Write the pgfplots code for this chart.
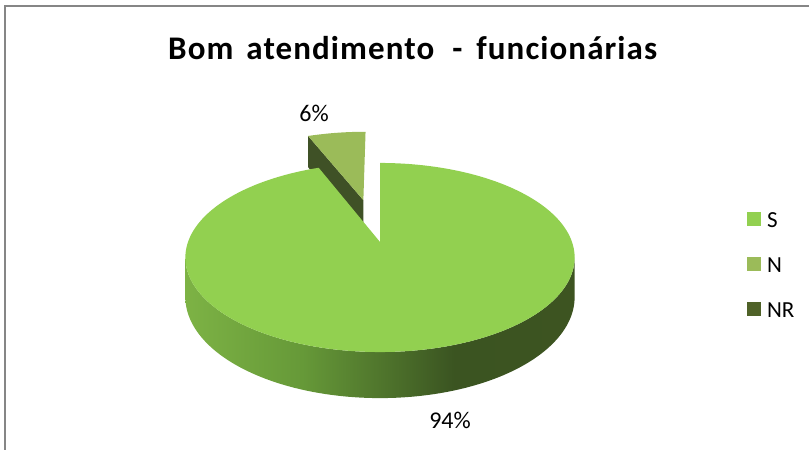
\documentclass[border=0pt]{standalone}
\usepackage{fontspec}
\setmainfont{Carlito}
\newfontfamily\titlefont{Carlito}[LetterSpace=3.3]
\usepackage{pgfplots}
\usepackage{pgfplotstable}
\pgfplotsset{compat=1.18}

\definecolor{colS}{RGB}{146,208,80}
\definecolor{colN}{RGB}{155,187,89}
\definecolor{colNR}{RGB}{79,98,40}
\definecolor{sideN}{RGB}{63,81,38}
\definecolor{framegray}{RGB}{134,134,134}
\pgfdeclarehorizontalshading{wallS}{100bp}{rgb(0bp)=(0.49,0.70,0.27); rgb(25bp)=(0.49,0.70,0.27); rgb(40bp)=(0.40,0.60,0.22); rgb(59.5bp)=(0.23,0.33,0.13); rgb(75bp)=(0.24,0.33,0.13); rgb(100bp)=(0.24,0.33,0.13)}

\pgfplotstableread{
label value
S 94
N 6
NR 0
}\piedata

\begin{document}%
\begin{tikzpicture}
\pgfplotstablegetelem{0}{value}\of\piedata \let\vS\pgfplotsretval
\pgfplotstablegetelem{1}{value}\of\piedata \let\vN\pgfplotsretval
% geometry of the projected pie (pixels)
\def\cx{380}\def\cy{242}\def\A{192}\def\B{92}\def\k{0.164}\def\H{38.5}
\pgfmathsetmacro\aSend{90-3.6*\vS}
\pgfmathsetmacro\aNend{90+3.6*\vN}
\pgfmathsetmacro\aNmid{90+1.8*\vN}
\pgfmathsetmacro\ex{0.5*cos(\aNmid)}
\pgfmathsetmacro\ey{0.5*sin(\aNmid)}
\pgfmathsetmacro\sR{-asin(\k)}
\pgfmathsetmacro\sL{-180+asin(\k)}
% corner points of the N slice
\pgfmathsetmacro\NapX{\cx+\A*\ex/(1+\k*\ey)}
\pgfmathsetmacro\NapY{\cy-(\B*\ey)/(1+\k*\ey)}
\pgfmathsetmacro\NapYb{\cy-(\B*\ey-\H)/(1+\k*\ey)}
\pgfmathsetmacro\NbU{\ex+cos(\aNend)}
\pgfmathsetmacro\NbV{\ey+sin(\aNend)}
\pgfmathsetmacro\NbX{\cx+\A*\NbU/(1+\k*\NbV)}
\pgfmathsetmacro\NbY{\cy-(\B*\NbV)/(1+\k*\NbV)}
\pgfmathsetmacro\NbYb{\cy-(\B*\NbV-\H)/(1+\k*\NbV)}
\begin{axis}[
  width=809bp, height=450bp, scale only axis,
  xmin=0, xmax=809, ymin=0, ymax=450, y dir=reverse,
  hide axis, clip=false,
  declare function={
    PX(\u,\v)=\cx+\A*\u/(1+\k*\v);
    PY(\u,\v,\w)=\cy-(\B*\v+\H*\w)/(1+\k*\v);
    th(\t)=(\t<1) ? (\sR+(\sL-\sR)*\t) : (\sL+(\sR-\sL)*(\t-1));
    zz(\t)=(\t<1) ? 0 : -1;
  },
  legend image code/.code={\fill[#1] (0bp,-5.5bp) rectangle (14bp,8.5bp);},
  legend style={draw=none, fill=none, at={(axis cs:747,212)}, anchor=north west,
    inner sep=0pt, outer sep=0pt, font=\fontsize{23bp}{27bp}\selectfont,
    row sep=29bp, nodes={inner xsep=0bp, inner ysep=0bp, text height=15bp, text depth=0bp},
    /tikz/every odd column/.append style={column sep=6bp}},
  legend cell align=left,
]
% frame
\draw[framegray, line width=1.6bp] (axis cs:5,451) -- (axis cs:5,6) -- (axis cs:810,6);
% N slice (exploded)
\edef\tmp{\noexpand\addplot[forget plot, fill=sideN, draw=none] coordinates {(\NapX,\NapY) (\NbX,\NbY) (\NbX,\NbYb) (\NapX,\NapYb)} -- cycle;}\tmp
\addplot[forget plot, fill=colN, draw=none, domain=90:\aNend, samples=40, variable=\t]
  ({PX(\ex+cos(\t),\ey+sin(\t))}, {PY(\ex+cos(\t),\ey+sin(\t),0)}) -- (axis cs:\NapX,\NapY) -- cycle;
% S slice: side wall
\addplot[forget plot, shading=wallS, draw=none, domain=0:2, samples=401, variable=\t]
  ({PX(cos(th(\t)),sin(th(\t)))}, {PY(cos(th(\t)),sin(th(\t)),zz(\t))}) -- cycle;
% S slice: top face
\addplot[forget plot, fill=colS, draw=none, domain=\aSend:90, samples=300, variable=\t]
  ({PX(cos(\t),sin(\t))}, {PY(cos(\t),sin(\t),0)}) -- (axis cs:\cx,\cy) -- cycle;
% data labels
\node[font=\fontsize{24bp}{28bp}\selectfont, inner sep=0pt] at (axis cs:314,113) {\vN\%};
\node[font=\fontsize{24bp}{28bp}\selectfont, inner sep=0pt] at (axis cs:450,420) {\vS\%};
% title
\node[anchor=base west, inner sep=0pt] at (axis cs:168,60)
  {\titlefont\bfseries\fontsize{33bp}{39bp}\selectfont Bom\hspace{13bp}atendimento\hspace{18bp}-\hspace{14bp}funcionárias};
% legend
\addlegendimage{fill=colS, draw=none}\addlegendentry{S}
\addlegendimage{fill=colN, draw=none}\addlegendentry{N}
\addlegendimage{fill=colNR, draw=none}\addlegendentry{NR}
\end{axis}
\pgfresetboundingbox
\path[use as bounding box] (current axis.south west) rectangle (current axis.north east);
\end{tikzpicture}%
\end{document}
